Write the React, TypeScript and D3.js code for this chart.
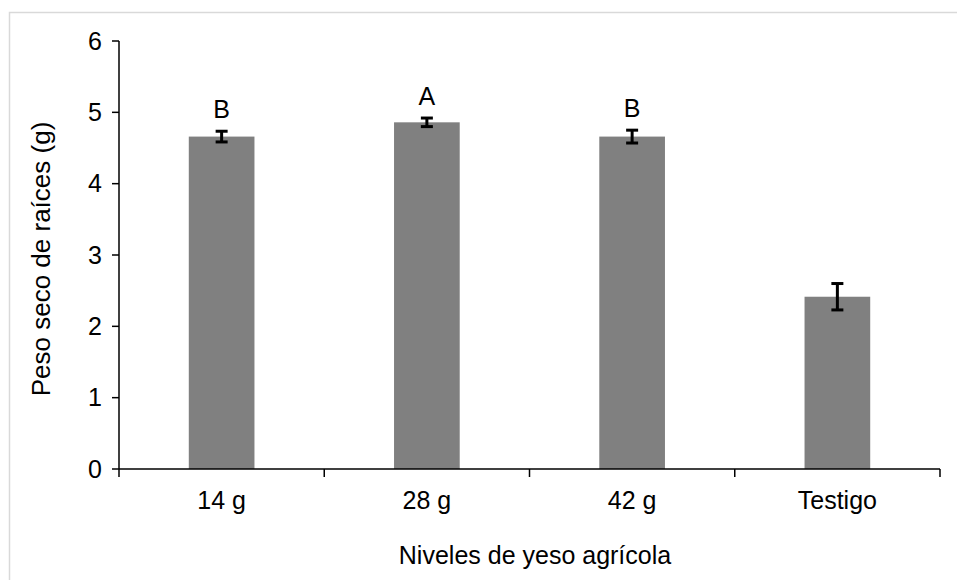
import React, { useEffect, useRef } from "react";
import * as d3 from "d3";

const categories = ["14 g", "28 g", "42 g", "Testigo"];
const values = [4.66, 4.86, 4.66, 2.415];
const errors = [0.075, 0.06, 0.09, 0.185];
const letters = ["B", "A", "B", ""];
const yTicks = [0, 1, 2, 3, 4, 5, 6];

const W = 957;
const H = 580;
const FONT = "Arial, 'Liberation Sans', sans-serif";

const App = () => {
  const ref = useRef<SVGSVGElement>(null);

  useEffect(() => {
    const svg = d3.select(ref.current);
    svg.selectAll("*").remove();

    const left = 119;
    const right = 940;
    const top = 41;
    const bottom = 469;

    // chart frame
    svg
      .append("rect")
      .attr("x", 9.5)
      .attr("y", 12.5)
      .attr("width", W + 20)
      .attr("height", H + 20)
      .attr("fill", "white")
      .attr("stroke", "#d9d9d9")
      .attr("stroke-width", 1.5);

    const x = d3.scaleBand().domain(categories).range([left, right]).paddingInner(0.68).paddingOuter(0.34);
    const y = d3.scaleLinear().domain([0, 6]).range([bottom, top]);
    const step = (right - left) / categories.length;

    const g = svg.append("g");

    // bars
    g.selectAll("rect.bar")
      .data(values)
      .join("rect")
      .attr("class", "bar")
      .attr("x", (d, i) => x(categories[i])!)
      .attr("width", x.bandwidth())
      .attr("y", d => y(d))
      .attr("height", d => bottom - y(d))
      .attr("fill", "#808080");

    // error bars
    const eb = g
      .selectAll("g.err")
      .data(values)
      .join("g")
      .attr("class", "err")
      .attr("transform", (d, i) => `translate(${x(categories[i])! + x.bandwidth() / 2},0)`);
    eb.append("line")
      .attr("y1", (d, i) => y(d + errors[i]))
      .attr("y2", (d, i) => y(d - errors[i]))
      .attr("stroke", "black")
      .attr("stroke-width", 3);
    eb.append("line")
      .attr("x1", -6)
      .attr("x2", 6)
      .attr("y1", (d, i) => y(d + errors[i]))
      .attr("y2", (d, i) => y(d + errors[i]))
      .attr("stroke", "black")
      .attr("stroke-width", 3);
    eb.append("line")
      .attr("x1", -6)
      .attr("x2", 6)
      .attr("y1", (d, i) => y(d - errors[i]))
      .attr("y2", (d, i) => y(d - errors[i]))
      .attr("stroke", "black")
      .attr("stroke-width", 3);

    // letters
    g.selectAll("text.letter")
      .data(values)
      .join("text")
      .attr("class", "letter")
      .attr("x", (d, i) => x(categories[i])! + x.bandwidth() / 2)
      .attr("y", (d, i) => y(d + errors[i]) - 13)
      .attr("text-anchor", "middle")
      .style("font-family", FONT)
      .style("font-size", "25px")
      .text((d, i) => letters[i]);

    // y axis
    const yAxis = svg.append("g").attr("transform", `translate(${left},0)`);
    yAxis
      .append("line")
      .attr("y1", top)
      .attr("y2", bottom)
      .attr("stroke", "black")
      .attr("stroke-width", 1.5);
    yAxis
      .selectAll("line.tick")
      .data(yTicks)
      .join("line")
      .attr("class", "tick")
      .attr("x1", -7)
      .attr("x2", 0)
      .attr("y1", d => y(d))
      .attr("y2", d => y(d))
      .attr("stroke", "black")
      .attr("stroke-width", 1.5);
    yAxis
      .selectAll("text")
      .data(yTicks)
      .join("text")
      .attr("x", -17)
      .attr("y", d => y(d))
      .attr("dy", "0.35em")
      .attr("text-anchor", "end")
      .style("font-family", FONT)
      .style("font-size", "25px")
      .text(d => d);

    // x axis
    const xAxis = svg.append("g").attr("transform", `translate(0,${bottom})`);
    xAxis
      .append("line")
      .attr("x1", left)
      .attr("x2", right)
      .attr("stroke", "black")
      .attr("stroke-width", 1.5);
    xAxis
      .selectAll("line.tick")
      .data(d3.range(categories.length + 1))
      .join("line")
      .attr("class", "tick")
      .attr("x1", i => left + i * step)
      .attr("x2", i => left + i * step)
      .attr("y1", 0)
      .attr("y2", 8)
      .attr("stroke", "black")
      .attr("stroke-width", 1.5);
    xAxis
      .selectAll("text")
      .data(categories)
      .join("text")
      .attr("x", d => x(d)! + x.bandwidth() / 2)
      .attr("y", 40)
      .attr("text-anchor", "middle")
      .style("font-family", FONT)
      .style("font-size", "25px")
      .text(d => d);

    // axis titles
    svg
      .append("text")
      .attr("x", 535)
      .attr("y", 564)
      .attr("text-anchor", "middle")
      .style("font-family", FONT)
      .style("font-size", "25px")
      .text("Niveles de yeso agrícola");

    svg
      .append("text")
      .attr("transform", `translate(50,${(top + bottom) / 2 + 4}) rotate(-90)`)
      .attr("text-anchor", "middle")
      .style("font-family", FONT)
      .style("font-size", "26px")
      .text("Peso seco de raíces (g)");
  }, []);

  return (
    <svg
      ref={ref}
      width={W}
      height={H}
      style={{ position: "absolute", left: 0, top: 0, background: "white" }}
    />
  );
};

export default App;
